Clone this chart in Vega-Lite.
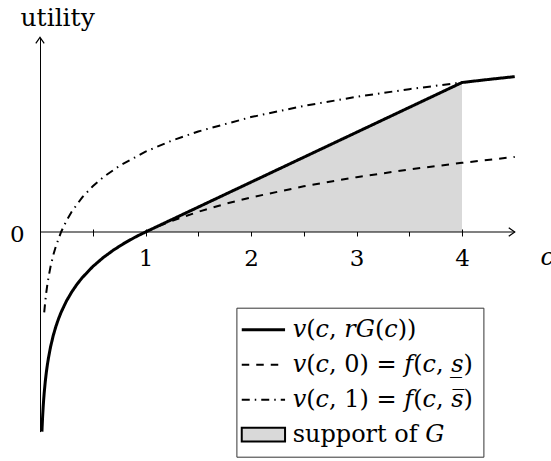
{
  "$schema": "https://vega.github.io/schema/vega-lite/v6.json",
  "width": 474.75,
  "height": 394.2,
  "autosize": {"type": "none"},
  "padding": {"left": 40, "top": 37.4, "right": 36, "bottom": 29},
  "background": "white",
  "config": {"view": {"stroke": null}, "font": "DejaVu Serif"},
  "datasets": {
    "support": [
      {"c": 1, "u": 0},
      {"c": 4, "u": 2.996}
    ],
    "solid": [
      {"c": 0.0183, "u": -4.0, "series": "solid"},
      {"c": 0.02, "u": -3.912, "series": "solid"},
      {"c": 0.025, "u": -3.689, "series": "solid"},
      {"c": 0.03, "u": -3.507, "series": "solid"},
      {"c": 0.035, "u": -3.352, "series": "solid"},
      {"c": 0.04, "u": -3.219, "series": "solid"},
      {"c": 0.05, "u": -2.996, "series": "solid"},
      {"c": 0.06, "u": -2.813, "series": "solid"},
      {"c": 0.07, "u": -2.659, "series": "solid"},
      {"c": 0.08, "u": -2.526, "series": "solid"},
      {"c": 0.1, "u": -2.303, "series": "solid"},
      {"c": 0.125, "u": -2.079, "series": "solid"},
      {"c": 0.15, "u": -1.897, "series": "solid"},
      {"c": 0.175, "u": -1.743, "series": "solid"},
      {"c": 0.2, "u": -1.609, "series": "solid"},
      {"c": 0.25, "u": -1.386, "series": "solid"},
      {"c": 0.3, "u": -1.204, "series": "solid"},
      {"c": 0.35, "u": -1.05, "series": "solid"},
      {"c": 0.4, "u": -0.916, "series": "solid"},
      {"c": 0.5, "u": -0.693, "series": "solid"},
      {"c": 0.6, "u": -0.511, "series": "solid"},
      {"c": 0.7, "u": -0.357, "series": "solid"},
      {"c": 0.8, "u": -0.223, "series": "solid"},
      {"c": 0.9, "u": -0.105, "series": "solid"},
      {"c": 1, "u": 0, "series": "solid"},
      {"c": 4, "u": 2.996, "series": "solid"},
      {"c": 4.25, "u": 3.057, "series": "solid"},
      {"c": 4.5, "u": 3.114, "series": "solid"}
    ],
    "dashed": [
      {"c": 1, "u": 0, "series": "dashed"},
      {"c": 1.1, "u": 0.095, "series": "dashed"},
      {"c": 1.25, "u": 0.223, "series": "dashed"},
      {"c": 1.5, "u": 0.405, "series": "dashed"},
      {"c": 1.75, "u": 0.56, "series": "dashed"},
      {"c": 2, "u": 0.693, "series": "dashed"},
      {"c": 2.5, "u": 0.916, "series": "dashed"},
      {"c": 3, "u": 1.099, "series": "dashed"},
      {"c": 3.5, "u": 1.253, "series": "dashed"},
      {"c": 4, "u": 1.386, "series": "dashed"},
      {"c": 4.5, "u": 1.504, "series": "dashed"}
    ],
    "dashdot": [
      {"c": 0.04, "u": -1.609, "series": "dashdot"},
      {"c": 0.05, "u": -1.386, "series": "dashdot"},
      {"c": 0.06, "u": -1.203, "series": "dashdot"},
      {"c": 0.07, "u": -1.049, "series": "dashdot"},
      {"c": 0.08, "u": -0.916, "series": "dashdot"},
      {"c": 0.1, "u": -0.693, "series": "dashdot"},
      {"c": 0.125, "u": -0.469, "series": "dashdot"},
      {"c": 0.15, "u": -0.287, "series": "dashdot"},
      {"c": 0.2, "u": 0.001, "series": "dashdot"},
      {"c": 0.25, "u": 0.224, "series": "dashdot"},
      {"c": 0.3, "u": 0.406, "series": "dashdot"},
      {"c": 0.4, "u": 0.694, "series": "dashdot"},
      {"c": 0.5, "u": 0.917, "series": "dashdot"},
      {"c": 0.6, "u": 1.099, "series": "dashdot"},
      {"c": 0.75, "u": 1.322, "series": "dashdot"},
      {"c": 1, "u": 1.61, "series": "dashdot"},
      {"c": 1.25, "u": 1.833, "series": "dashdot"},
      {"c": 1.5, "u": 2.015, "series": "dashdot"},
      {"c": 2, "u": 2.303, "series": "dashdot"},
      {"c": 2.5, "u": 2.526, "series": "dashdot"},
      {"c": 3, "u": 2.709, "series": "dashdot"},
      {"c": 3.5, "u": 2.863, "series": "dashdot"},
      {"c": 4, "u": 2.996, "series": "dashdot"}
    ]
  },
  "layer": [
    {
      "data": {"name": "support"},
      "mark": {"type": "area", "color": "#d9d9d9", "opacity": 1},
      "encoding": {
        "x": {
          "field": "c", "type": "quantitative",
          "scale": {"domain": [0, 4.5], "nice": false, "zero": false},
          "axis": {
            "orient": "bottom", "offset": -202.6, "domain": false, "grid": false,
            "ticks": true, "tickSize": 7, "tickColor": "black", "tickWidth": 1,
            "values": [0.5, 1, 1.5, 2, 2.5, 3, 3.5, 4],
            "labelExpr": "datum.value % 1 === 0 ? format(datum.value, 'd') : ''",
            "labelFont": "DejaVu Serif", "labelFontSize": 23, "labelColor": "black",
            "labelPadding": 11.5, "labelOverlap": false, "labelFlush": false,
            "title": "c", "titleFont": "DejaVu Serif", "titleFontStyle": "italic",
            "titleFontWeight": "normal", "titleFontSize": 24, "titleColor": "black",
            "titleX": 500, "titleY": 36, "titleAlign": "left", "titleBaseline": "alphabetic"
          }
        },
        "y": {
          "field": "u", "type": "quantitative",
          "scale": {"domain": [-4, 3.9], "nice": false, "zero": false},
          "axis": {
            "orient": "left", "grid": false, "values": [0],
            "domain": true, "domainColor": "black", "domainWidth": 1,
            "ticks": false, "tickSize": 0,
            "labelFont": "DejaVu Serif", "labelFontSize": 23, "labelColor": "black",
            "labelPadding": 16, "labelOffset": 2,
            "title": "utility", "titleFont": "DejaVu Serif", "titleFontWeight": "normal",
            "titleFontSize": 25, "titleColor": "black", "titleAngle": 0,
            "titleX": -20, "titleY": -12, "titleAlign": "left", "titleBaseline": "alphabetic"
          }
        },
        "y2": {"datum": 0}
      }
    },
    {
      "data": {"values": [{}]},
      "mark": {"type": "rule", "color": "black", "strokeWidth": 1},
      "encoding": {"y": {"datum": 0}}
    },
    {
      "data": {"name": "solid"},
      "mark": {"type": "line", "color": "black", "strokeWidth": 3},
      "encoding": {
        "x": {"field": "c", "type": "quantitative"},
        "y": {"field": "u", "type": "quantitative"},
        "strokeDash": {
          "field": "series", "type": "nominal",
          "scale": {
            "domain": ["solid", "dashed", "dashdot", "support"],
            "range": [[1, 0], [7.5, 7], [8, 5, 1.5, 5], [1, 0]]
          },
          "legend": {
            "orient": "none", "legendX": 196.4, "legendY": 270.3,
            "title": null, "padding": 10, "rowPadding": 11,
            "strokeColor": "#333", "fillColor": "white",
            "symbolSize": 1875, "symbolStrokeColor": "black", "symbolOffset": 5,
            "labelFont": "DejaVu Serif", "labelFontSize": 24, "labelColor": "black",
            "labelOffset": 17.3, "labelLimit": 400,
            "labelExpr": "datum.value === 'solid' ? '𝑣(𝑐, 𝑟𝐺(𝑐))' : datum.value === 'dashed' ? '𝑣(𝑐, 0) = 𝑓(𝑐, 𝑠̲)' : datum.value === 'dashdot' ? '𝑣(𝑐, 1) = 𝑓(𝑐, 𝑠̅)' : 'support of 𝐺'",
            "encode": {
              "symbols": {
                "update": {
                  "shape": {"signal": "datum.value === 'support' ? 'M-1,-0.32H1V0.32H-1Z' : 'stroke'"},
                  "fill": {"signal": "datum.value === 'support' ? '#d9d9d9' : 'transparent'"},
                  "stroke": {"value": "black"},
                  "strokeWidth": {"signal": "datum.value === 'solid' ? 3 : 2"},
                  "opacity": {"value": 1}
                }
              }
            }
          }
        }
      }
    },
    {
      "data": {"name": "dashdot"},
      "mark": {"type": "line", "color": "black", "strokeWidth": 2},
      "encoding": {
        "x": {"field": "c", "type": "quantitative"},
        "y": {"field": "u", "type": "quantitative"},
        "strokeDash": {"field": "series", "type": "nominal"}
      }
    },
    {
      "data": {"name": "dashed"},
      "mark": {"type": "line", "color": "black", "strokeWidth": 2},
      "encoding": {
        "x": {"field": "c", "type": "quantitative"},
        "y": {"field": "u", "type": "quantitative"},
        "strokeDash": {"field": "series", "type": "nominal"}
      }
    },
    {
      "data": {"values": [{}]},
      "mark": {"type": "point", "shape": "M-1,-0.7L0,0L-1,0.7", "size": 144, "filled": false, "color": "black", "strokeWidth": 1.2, "opacity": 1},
      "encoding": {"x": {"datum": 4.5}, "y": {"datum": 0}}
    },
    {
      "data": {"values": [{}]},
      "mark": {"type": "point", "shape": "M-0.7,1L0,0L0.7,1", "size": 144, "filled": false, "color": "black", "strokeWidth": 1.2, "opacity": 1},
      "encoding": {"x": {"datum": 0}, "y": {"datum": 3.9}}
    }
  ]
}
